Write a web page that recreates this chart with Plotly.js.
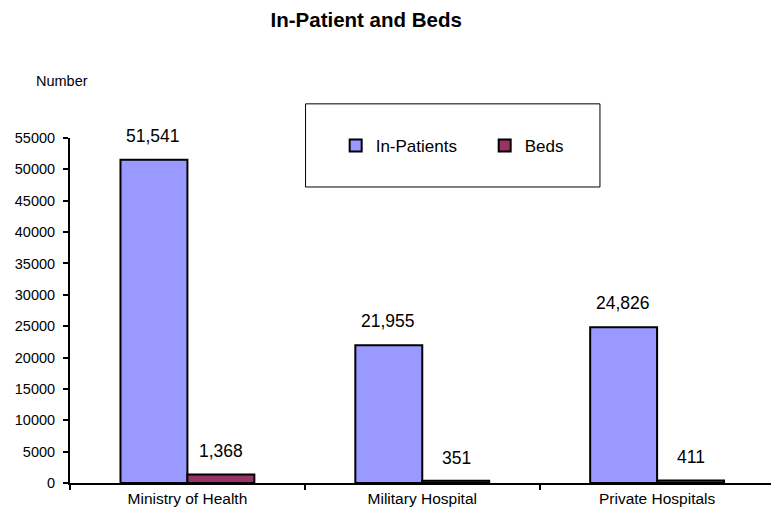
<!DOCTYPE html>
<html><head><meta charset="utf-8">
<script src="https://cdn.plot.ly/plotly-3.0.1.min.js"></script>
<style>body{margin:0;padding:0;background:#fff}#c{width:771px;height:513px}</style>
</head><body><div id="c"></div>
<script>
var categories = ["Ministry of Health", "Military Hospital", "Private Hospitals"];
var inPatients = [51541, 21955, 24826];
var beds = [1368, 351, 411];
var seriesNames = ["In-Patients", "Beds"];

var F = "Liberation Sans, Arial, sans-serif";
var traces = [
  {type:"bar", name:seriesNames[0], x:categories, y:inPatients,
   marker:{color:"#9999FF", line:{color:"#000", width:2}}},
  {type:"bar", name:seriesNames[1], x:categories, y:beds,
   marker:{color:"#993366", line:{color:"#000", width:2}}}
];
var ann = [];
function fmt(v){return v.toLocaleString("en-US");}
categories.forEach(function(c,i){
  ann.push({x:c, y:inPatients[i], xref:"x", yref:"y", text:fmt(inPatients[i]), showarrow:false,
    xshift:-34, yshift:24, font:{family:F, size:17.5, color:"#000"}});
  ann.push({x:c, y:beds[i], xref:"x", yref:"y", text:fmt(beds[i]), showarrow:false,
    xshift:34, yshift:23, font:{family:F, size:17.5, color:"#000"}});
});
ann.push({xref:"paper", yref:"paper", x:-0.011, y:1.165, xanchor:"center", yanchor:"middle",
  text:"Number", showarrow:false, font:{family:F, size:14.5, color:"#000"}});

var layout = {
  width:771, height:513,
  margin:{l:70, r:0, t:138, b:30},
  paper_bgcolor:"#fff", plot_bgcolor:"#fff",
  title:{text:"<b>In-Patient and Beds</b>", x:0.475, xanchor:"center", y:0.961, yanchor:"middle",
    font:{family:F, size:20.5, color:"#000"}},
  font:{family:F, color:"#000"},
  barmode:"group", bargap:0.43, bargroupgap:0,
  showlegend:true,
  legend:{orientation:"h", x:0.379, y:0.977, xanchor:"left", yanchor:"middle",
    bgcolor:"rgba(0,0,0,0)", borderwidth:0, font:{family:F, size:17, color:"#000"},
    itemwidth:30, entrywidth:104},
  xaxis:{type:"category", range:[-0.5, 2.485], showline:true, linecolor:"#000", linewidth:2,
    ticks:"outside", tickson:"boundaries", ticklen:5, tickwidth:2, tickcolor:"#000",
    showgrid:false, zeroline:false, tickfont:{family:F, size:15.5, color:"#000"}},
  yaxis:{range:[0,55000], dtick:5000, tickformat:"d", showline:true, linecolor:"#000", linewidth:2,
    ticks:"outside", ticklen:5, tickwidth:2, tickcolor:"#000", showgrid:false, zeroline:false,
    ticklabelstandoff:5, tickfont:{family:F, size:14.5, color:"#000"}},
  shapes:[{type:"rect", xref:"paper", yref:"paper", x0:0.336, x1:0.756, y0:0.858, y1:1.099,
    line:{color:"#000", width:1}, fillcolor:"rgba(0,0,0,0)", layer:"below"}],
  annotations:ann
};
Plotly.newPlot("c", traces, layout, {displayModeBar:false, staticPlot:true});
</script></body></html>
